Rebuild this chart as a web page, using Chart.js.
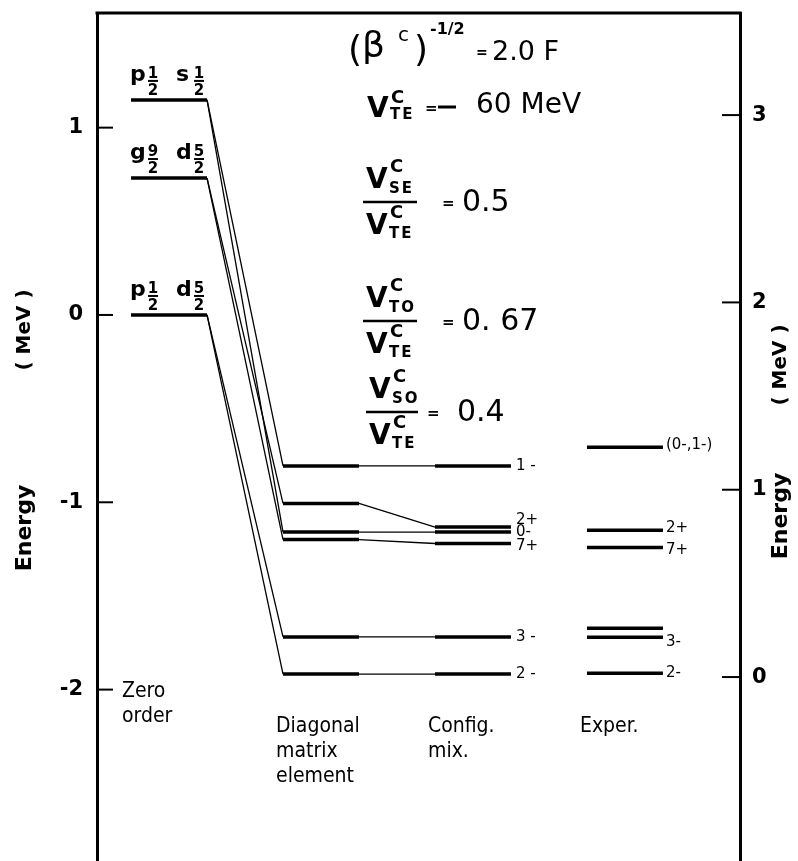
<!DOCTYPE html>
<html>
<head>
<meta charset="utf-8">
<script src="https://cdn.jsdelivr.net/npm/chart.js@4.4.0/dist/chart.umd.min.js"></script>
<style>
  body { margin: 0; background: #fff; }
  #wrap { width: 798px; height: 861px; }
</style>
</head>
<body>
<div id="wrap"><canvas id="levelChart" width="798" height="861"></canvas></div>
<script>
// columns of the level scheme
const columns = [['Zero', 'order'], ['Diagonal', 'matrix', 'element'], ['Config.', 'mix.'], ['Exper.']];

// zero order configurations (MeV, left scale)
const zeroOrder = [1.148, 0.731, 0.0];
const zeroOrderNames = [[['p', '1', '2'], ['s', '1', '2']], [['g', '9', '2'], ['d', '5', '2']], [['p', '1', '2'], ['d', '5', '2']]];

// calculated states (MeV, left scale)
const states = ['1-', '2+', '0-', '7+', '3-', '2-'];
const stateParent = [0, 1, 0, 1, 2, 2];
const diagonal = [-0.806, -1.006, -1.159, -1.199, -1.719, -1.917];
const configMix = [-0.806, -1.132, -1.159, -1.220, -1.719, -1.917];
const configLabels = ['1 -', '2+', '0-', '7+', '3 -', '2 -'];

// experimental levels (MeV, right scale = excitation energy)
const exper = [1.227, 0.784, 0.691, 0.261, 0.213, 0.02];
const experLabels = ['(0-,1-)', '2+', '7+', '', '3-', '2-'];

const leftTicks = [-2, -1, 0, 1];
const rightTicks = [0, 1, 2, 3];
const rightOffset = 1.933;   // right scale zero = ground state
const yMin = -2.915, yMax = 1.612;

const FONT = '"DejaVu Sans", sans-serif';
const NARROW = '"DejaVu Sans Condensed", "Liberation Sans Narrow", sans-serif';
const HW = 0.25;

const datasets = [];
function seg(x0, y0, x1, y1, w, axis) {
    datasets.push({
        data: [{ x: x0, y: y0 }, { x: x1, y: y1 }],
        showLine: true,
        borderColor: '#000',
        borderWidth: w,
        pointRadius: 0,
        borderCapStyle: 'butt',
        yAxisID: axis || 'y'
    });
}
zeroOrder.forEach(v => seg(-HW, v, HW, v, 3.5));
diagonal.forEach((v, i) => {
    seg(1 - HW, v, 1 + HW, v, 3.5);
    seg(HW, zeroOrder[stateParent[i]], 1 - HW, v, 1.3);
});
configMix.forEach((v, i) => {
    seg(2 - HW, v, 2 + HW, v, 3.5);
    seg(1 + HW, diagonal[i], 2 - HW, v, 1.3);
});
exper.forEach(v => seg(3 - HW, v, 3 + HW, v, 3.5, 'y2'));

function put(ctx, s, x, y, size, weight, align, base, family, spacing) {
    ctx.font = (weight || 'normal') + ' ' + size + 'px ' + (family || FONT);
    ctx.textAlign = align || 'left';
    ctx.textBaseline = base || 'alphabetic';
    ctx.letterSpacing = spacing || '0px';
    ctx.fillText(s, x, y);
    ctx.letterSpacing = '0px';
}

function hline(ctx, x0, x1, y, w) {
    ctx.lineWidth = w;
    ctx.beginPath();
    ctx.moveTo(x0, y);
    ctx.lineTo(x1, y);
    ctx.stroke();
}

function vTerm(ctx, x, bottom, sub, supBottom, subBottom) {
    put(ctx, 'V', x, bottom, 28, 'bold');
    put(ctx, 'C', x + 24, supBottom, 18, 'bold');
    put(ctx, sub, x + 23, subBottom, 15, 'bold', 'left', 'alphabetic', FONT, '2px');
}

function ratio(ctx, x, B, sub, barW, eqX, valX, value) {
    vTerm(ctx, x, B - 14, sub, B - 30, B - 9);
    hline(ctx, x - 3, x - 3 + barW, B, 2.5);
    vTerm(ctx, x, B + 32, 'TE', B + 16, B + 36);
    put(ctx, '=', eqX, B + 6, 15, 'bold');
    put(ctx, value, valX, B + 1, 30, 'normal', 'left', 'middle');
}

const levelText = {
    id: 'levelText',
    afterDraw(chart) {
        const ctx = chart.ctx;
        const xs = chart.scales.x, ys = chart.scales.y, y2 = chart.scales.y2;
        const area = chart.chartArea;
        ctx.save();
        ctx.fillStyle = '#000';
        ctx.strokeStyle = '#000';

        // top of frame
        hline(ctx, area.left - 1.5, area.right + 1.5, area.top, 3);

        // inward ticks
        leftTicks.forEach(v => hline(ctx, area.left, area.left + 16, ys.getPixelForValue(v), 2));
        rightTicks.forEach(v => hline(ctx, area.right - 18, area.right, y2.getPixelForValue(v), 2));

        // axis titles
        [[25, 330, '( MeV )', 20], [25, 528, 'Energy', 22], [781, 365, '( MeV )', 20], [781, 516, 'Energy', 22]].forEach(t => {
            ctx.save(); ctx.translate(t[0], t[1]); ctx.rotate(-Math.PI / 2);
            put(ctx, t[2], 0, 0, t[3], 'bold', 'center', 'middle');
            ctx.restore();
        });

        // zero order configuration names
        const x0 = xs.getPixelForValue(-HW);
        zeroOrder.forEach((v, i) => {
            const L = ys.getPixelForValue(v);
            zeroOrderNames[i].forEach((orb, k) => {
                const lx = x0 - 1 + k * 46;
                put(ctx, orb[0], lx, L - 19, 22, 'bold');
                const cx = lx + 23;
                put(ctx, orb[1], cx, L - 22, 15, 'bold', 'center');
                hline(ctx, cx - 5, cx + 5, L - 19, 2);
                put(ctx, orb[2], cx, L - 5, 15, 'bold', 'center');
            });
        });

        // state labels
        const cNudge = [0, -7, 0, 3, 0, 0];
        const cx2 = xs.getPixelForValue(2 + HW);
        configMix.forEach((v, i) => {
            put(ctx, configLabels[i], cx2 + 5, ys.getPixelForValue(v) + cNudge[i], 15, 'normal', 'left', 'middle');
        });
        const eNudge = [-2, -2, 2, 0, 5, 0];
        const cx3 = xs.getPixelForValue(3 + HW);
        exper.forEach((v, i) => {
            if (experLabels[i]) put(ctx, experLabels[i], cx3 + 3, y2.getPixelForValue(v) + eNudge[i], 15, 'normal', 'left', 'middle');
        });

        // column names
        const colTop = [692, 727, 727, 727];
        columns.forEach((lines, c) => {
            const left = c === 0 ? 122 : xs.getPixelForValue(c - HW) - 7;
            lines.forEach((s, k) => put(ctx, s, left, colTop[c] + k * 25, 21, 'normal', 'left', 'middle', NARROW));
        });

        // interaction parameters
        put(ctx, '(', 348, 61, 36);
        put(ctx, 'β', 362, 57, 36);
        put(ctx, 'c', 398, 41, 20);
        put(ctx, ')', 414, 61, 36);
        put(ctx, '-1/2', 430, 34, 16, 'bold');
        put(ctx, '=', 476, 57, 14, 'bold');
        put(ctx, '2.0 F', 492, 53, 27, 'normal', 'left', 'middle');

        vTerm(ctx, 367, 117, 'TE', 103, 119);
        put(ctx, '=', 425, 113, 15, 'bold');
        hline(ctx, 438, 456, 107, 3);
        put(ctx, '60 MeV', 476, 106, 28, 'normal', 'left', 'middle');

        ratio(ctx, 366, 202, 'SE', 54, 442, 462, '0.5');
        ratio(ctx, 366, 321, 'TO', 54, 442, 462, '0. 67');
        ratio(ctx, 369, 412, 'SO', 52, 427, 457, '0.4');

        ctx.restore();
    }
};

function fixedWidth(w) {
    return s => {
        s.width = w;
        s.paddingTop = 0;
        s.paddingBottom = 0;
    };
}

new Chart(document.getElementById('levelChart'), {
    type: 'scatter',
    data: { datasets },
    options: {
        responsive: false,
        animation: false,
        layout: { padding: { top: 13, bottom: 0, left: 0, right: 0 } },
        plugins: { legend: { display: false }, tooltip: { enabled: false } },
        scales: {
            x: { type: 'linear', min: -0.474, max: 3.757, display: false },
            y: {
                type: 'linear', position: 'left', min: yMin, max: yMax,
                afterFit: fixedWidth(97),
                afterBuildTicks: s => { s.ticks = leftTicks.map(v => ({ value: v })); },
                grid: { display: false, drawTicks: false },
                border: { display: true, width: 3, color: '#000' },
                ticks: {
                    padding: 14, color: '#000',
                    font: { family: FONT, size: 21, weight: 'bold' },
                    callback: v => (v < 0 ? '-' + Math.abs(v) : String(v))
                }
            },
            y2: {
                type: 'linear', position: 'right', min: yMin + rightOffset, max: yMax + rightOffset,
                afterFit: fixedWidth(58),
                afterBuildTicks: s => { s.ticks = rightTicks.map(v => ({ value: v })); },
                grid: { display: false, drawTicks: false },
                border: { display: true, width: 3, color: '#000' },
                ticks: {
                    padding: 12, color: '#000',
                    font: { family: FONT, size: 21, weight: 'bold' }
                }
            }
        }
    },
    plugins: [levelText]
});
</script>
</body>
</html>
